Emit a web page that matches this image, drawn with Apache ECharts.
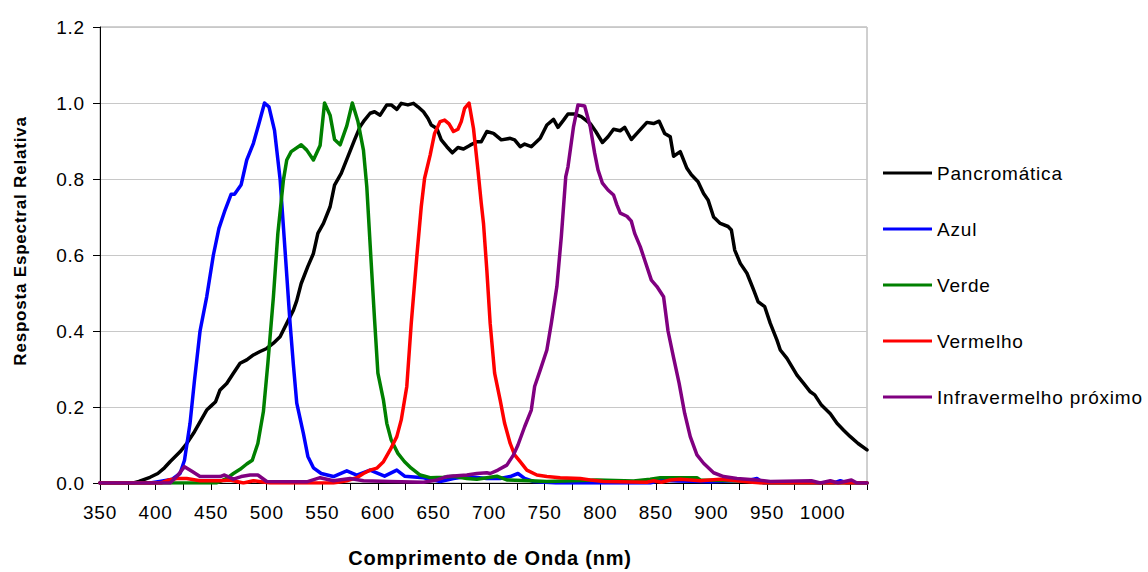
<!DOCTYPE html>
<html lang="pt">
<head>
<meta charset="utf-8">
<title>Resposta Espectral Relativa</title>
<script src="https://cdn.jsdelivr.net/npm/echarts@6/dist/echarts.min.js"></script>
<style>
  html, body { margin: 0; padding: 0; background: #ffffff; }
  #chart { width: 1148px; height: 572px; }
  /* slightly open letter spacing, like the original spreadsheet typeface */
  #chart text { letter-spacing: 0.8px; }
</style>
</head>
<body>
<div id="chart"></div>
<script>
// Relative spectral response per band: [wavelength (nm), response]
const pancromatica = [
  [350, 0], [380, 0], [385, 0.004], [395, 0.015], [402, 0.025], [408, 0.04], [413, 0.056],
  [422, 0.082], [428, 0.104], [435, 0.135], [441, 0.166], [446, 0.192], [450, 0.203],
  [454, 0.214], [458, 0.245], [464, 0.262], [470, 0.289], [476, 0.315], [482, 0.324],
  [488, 0.337], [494, 0.346], [500, 0.354], [506, 0.368], [512, 0.385], [518, 0.42],
  [524, 0.455], [527, 0.48], [531, 0.525], [537, 0.57], [542, 0.604], [546, 0.657],
  [551, 0.683], [557, 0.727], [561, 0.784], [567, 0.815], [573, 0.859], [579, 0.903],
  [584, 0.938], [588, 0.955], [593, 0.973], [597, 0.977], [602, 0.968], [608, 0.995],
  [612, 0.995], [617, 0.983], [621, 0.999], [627, 0.995], [632, 0.999], [636, 0.99],
  [641, 0.977], [645, 0.96], [648, 0.942], [653, 0.933], [657, 0.903], [662, 0.885],
  [667, 0.869], [672, 0.883], [677, 0.879], [683, 0.889], [689, 0.898], [693, 0.898],
  [698, 0.925], [704, 0.92], [711, 0.903], [719, 0.907], [723, 0.903], [728, 0.885],
  [732, 0.892], [738, 0.885], [746, 0.907], [752, 0.942], [758, 0.957], [762, 0.936],
  [767, 0.955], [771, 0.971], [777, 0.971], [783, 0.964], [791, 0.946], [796, 0.925],
  [802, 0.896], [807, 0.911], [812, 0.931], [818, 0.927], [822, 0.936], [828, 0.904],
  [833, 0.92], [842, 0.949], [848, 0.946], [853, 0.952], [858, 0.92], [863, 0.911],
  [866, 0.86], [872, 0.872], [878, 0.828], [882, 0.811], [888, 0.793], [893, 0.762],
  [897, 0.745], [902, 0.70], [908, 0.683], [915, 0.675], [918, 0.666], [921, 0.613],
  [926, 0.578], [932, 0.552], [938, 0.508], [942, 0.477], [948, 0.464], [953, 0.42],
  [959, 0.376], [962, 0.35], [968, 0.328], [977, 0.284], [983, 0.262], [989, 0.24],
  [993, 0.232], [999, 0.205], [1007, 0.182], [1013, 0.157], [1019, 0.139], [1025, 0.122],
  [1032, 0.104], [1040, 0.087]
];

const azul = [
  [350, 0], [395, 0], [405, 0.005], [415, 0.01], [422, 0.025], [426, 0.06], [431, 0.157],
  [435, 0.27], [440, 0.40], [446, 0.49], [452, 0.60], [457, 0.67], [462, 0.714],
  [468, 0.76], [471, 0.76], [477, 0.785], [482, 0.85], [488, 0.894], [493, 0.946],
  [498, 1.0], [502, 0.99], [507, 0.928], [512, 0.80], [517, 0.59], [521, 0.42],
  [524, 0.31], [527, 0.21], [533, 0.13], [537, 0.07], [542, 0.04], [549, 0.025],
  [560, 0.017], [572, 0.032], [581, 0.021], [593, 0.034], [606, 0.018], [617, 0.034],
  [624, 0.018], [641, 0.014], [656, 0.004], [668, 0.012], [680, 0.017], [698, 0.012],
  [710, 0.012], [719, 0.017], [726, 0.025], [732, 0.012], [740, 0.004], [760, 0],
  [845, 0], [854, 0.008], [870, 0.005], [900, 0.003], [935, 0.008], [941, 0.012],
  [947, 0], [1010, 0], [1016, 0.006], [1022, 0], [1040, 0]
];

const verde = [
  [350, 0], [455, 0], [464, 0.012], [470, 0.025], [476, 0.036], [482, 0.05], [487, 0.06],
  [492, 0.104], [497, 0.188], [501, 0.315], [506, 0.49], [510, 0.657], [515, 0.797],
  [518, 0.85], [522, 0.872], [531, 0.89], [536, 0.876], [542, 0.85], [548, 0.888],
  [552, 1.0], [557, 0.968], [561, 0.904], [566, 0.89], [572, 0.94], [577, 1.0],
  [582, 0.952], [587, 0.876], [590, 0.78], [594, 0.578], [597, 0.43], [600, 0.289],
  [605, 0.218], [608, 0.157], [612, 0.113], [618, 0.078], [624, 0.056], [630, 0.039],
  [638, 0.021], [647, 0.014], [659, 0.015], [668, 0.018], [680, 0.012], [689, 0.01],
  [698, 0.014], [707, 0.018], [716, 0.008], [737, 0.006], [752, 0.004], [797, 0.008],
  [830, 0.005], [845, 0.01], [854, 0.014], [872, 0.014], [887, 0.014], [890, 0.008],
  [930, 0.005], [950, 0], [1040, 0]
];

const vermelho = [
  [350, 0], [405, 0], [412, 0.008], [419, 0.012], [428, 0.012], [440, 0.006], [458, 0.006],
  [467, 0.008], [479, 0], [488, 0.006], [503, 0], [560, 0], [572, 0.006], [581, 0.014],
  [587, 0.025], [593, 0.034], [599, 0.039], [605, 0.056], [611, 0.087], [617, 0.122],
  [621, 0.166], [626, 0.254], [630, 0.42], [635, 0.596], [639, 0.727], [642, 0.802],
  [647, 0.863], [651, 0.92], [656, 0.951], [660, 0.955], [664, 0.945], [668, 0.925],
  [672, 0.931], [675, 0.951], [678, 0.986], [682, 1.0], [686, 0.933], [690, 0.824],
  [693, 0.736], [695, 0.683], [698, 0.56], [701, 0.42], [705, 0.289], [710, 0.218],
  [714, 0.157], [719, 0.104], [723, 0.074], [728, 0.056], [734, 0.034], [743, 0.021],
  [752, 0.017], [764, 0.014], [782, 0.012], [791, 0.008], [803, 0.004], [842, 0.002],
  [848, 0.006], [855, 0.002], [863, 0.008], [872, 0.01], [890, 0.006], [908, 0.01],
  [923, 0.006], [944, 0], [1040, 0]
];

const infravermelho = [
  [350, 0], [413, 0], [420, 0.02], [426, 0.043], [433, 0.03], [440, 0.017], [458, 0.017],
  [462, 0.021], [470, 0.01], [477, 0.017], [485, 0.021], [492, 0.021], [500, 0.004],
  [536, 0.003], [548, 0.014], [560, 0.006], [575, 0.012], [587, 0.006], [611, 0.004],
  [641, 0.002], [653, 0.008], [662, 0.017], [680, 0.021], [689, 0.025], [698, 0.027],
  [701, 0.025], [708, 0.034], [716, 0.047], [722, 0.074], [726, 0.10], [732, 0.148],
  [738, 0.192], [741, 0.254], [746, 0.297], [752, 0.35], [756, 0.42], [761, 0.517],
  [765, 0.648], [769, 0.806], [771, 0.832], [776, 0.938], [780, 0.995], [786, 0.992],
  [791, 0.938], [795, 0.868], [798, 0.824], [802, 0.789], [807, 0.771], [812, 0.758],
  [815, 0.732], [818, 0.71], [824, 0.702], [828, 0.689], [831, 0.657], [836, 0.622],
  [840, 0.587], [846, 0.534], [851, 0.517], [857, 0.49], [861, 0.40], [866, 0.33],
  [871, 0.262], [876, 0.183], [881, 0.122], [887, 0.074], [893, 0.052], [902, 0.027],
  [911, 0.017], [923, 0.012], [941, 0.008], [953, 0.004], [990, 0.006], [998, 0],
  [1007, 0.006], [1014, 0], [1026, 0.008], [1031, 0], [1040, 0]
];

const seriesNames = ['Pancromática', 'Azul', 'Verde', 'Vermelho', 'Infravermelho próximo'];
const seriesData = [pancromatica, azul, verde, vermelho, infravermelho];
const seriesColors = ['#000000', '#0000ff', '#008000', '#ff0000', '#800080'];

const xTitle = 'Comprimento de Onda (nm)';
const yTitle = 'Resposta Espectral Relativa';

const FONT = 'Arial, "Liberation Sans", Helvetica, sans-serif';

const chart = echarts.init(document.getElementById('chart'), null, { renderer: 'svg' });

chart.setOption({
  animation: false,
  backgroundColor: '#ffffff',
  grid: {
    left: 100, right: 281, top: 27, bottom: 89,
    show: true, borderColor: '#a0a0a0', borderWidth: 1, backgroundColor: 'transparent'
  },
  legend: {
    orient: 'vertical',
    left: 883,
    top: 163,
    padding: 0,
    icon: 'rect',
    itemWidth: 49,
    itemHeight: 3,
    itemGap: 36,
    selectedMode: false,
    textStyle: { fontFamily: FONT, fontSize: 19, color: '#000', lineHeight: 20 },
    data: seriesNames
  },
  xAxis: {
    type: 'value',
    min: 350,
    max: 1040,
    interval: 25,
    axisLine: { lineStyle: { color: '#000', width: 1 } },
    axisTick: { show: true, inside: false, length: 7, lineStyle: { color: '#000' } },
    axisLabel: {
      margin: 20,
      color: '#000',
      fontFamily: FONT,
      fontSize: 19,
      formatter: v => (v % 50 === 0 ? String(v) : '')
    },
    splitLine: { show: false }
  },
  yAxis: {
    type: 'value',
    min: 0,
    max: 1.2,
    interval: 0.2,
    axisLine: { show: true, lineStyle: { color: '#000', width: 1 } },
    axisTick: { show: true, inside: false, length: 7, lineStyle: { color: '#000' } },
    axisLabel: {
      margin: 15,
      color: '#000',
      fontFamily: FONT,
      fontSize: 19,
      formatter: v => v.toFixed(1)
    },
    splitLine: { show: true, lineStyle: { color: '#c8c8c8', width: 1 } }
  },
  graphic: [
    {
      type: 'text',
      x: 490, y: 558,
      style: {
        text: xTitle, fill: '#000',
        font: 'bold 20px ' + FONT,
        textAlign: 'center', textVerticalAlign: 'middle'
      }
    },
    {
      type: 'text',
      x: 20, y: 241,
      rotation: Math.PI / 2,
      style: {
        text: yTitle, fill: '#000',
        font: 'bold 17px ' + FONT,
        textAlign: 'center', textVerticalAlign: 'middle'
      }
    }
  ],
  series: seriesNames.map((name, i) => ({
    name,
    type: 'line',
    data: seriesData[i],
    showSymbol: false,
    symbol: 'none',
    smooth: false,
    color: seriesColors[i],
    lineStyle: { color: seriesColors[i], width: 3.5, join: 'round', cap: 'round' },
    emphasis: { disabled: true },
    z: 2 + i
  }))
});
</script>
</body>
</html>
